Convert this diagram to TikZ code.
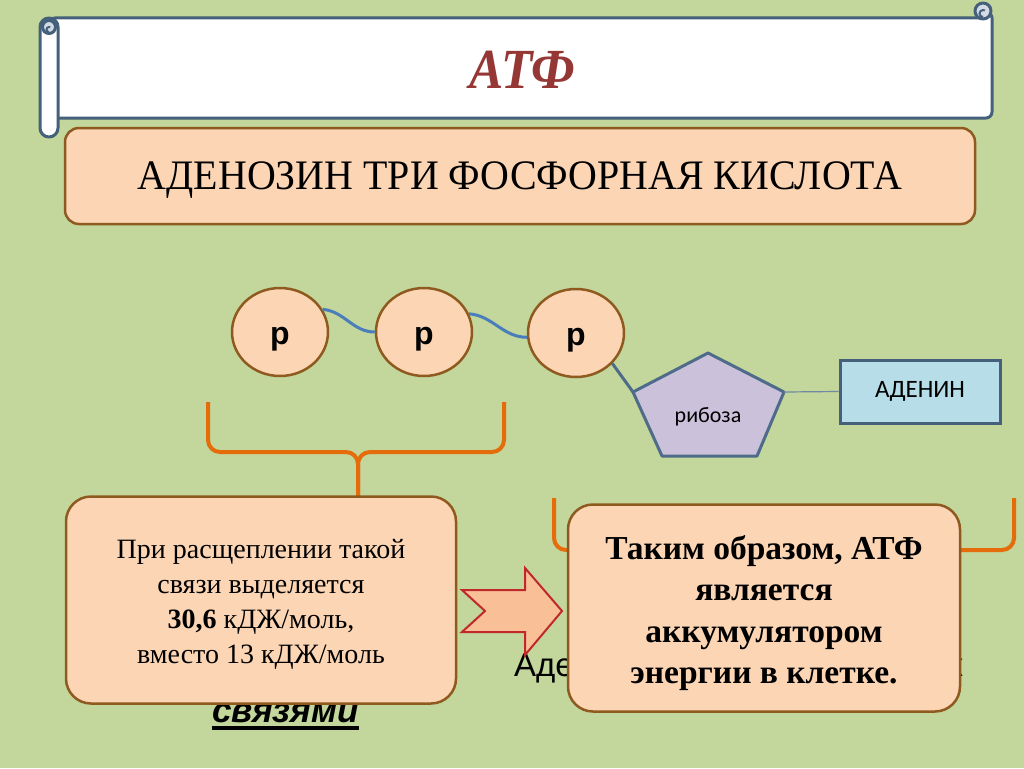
\documentclass[tikz,border=0pt]{standalone}
\usepackage{fontspec}
\usepackage{graphicx}
\setmainfont{Liberation Serif}
\newfontfamily\arialf{Liberation Sans}
\newfontfamily\calibrif{Carlito}
\usetikzlibrary{shapes.geometric,calc}
\definecolor{bgc}{HTML}{C3D69B}
\definecolor{peach}{HTML}{FCD5B5}
\definecolor{brownb}{HTML}{8F5A1F}
\definecolor{orb}{HTML}{E46C0A}
\definecolor{titler}{HTML}{953735}
\definecolor{scrollc}{HTML}{44607A}
\definecolor{wavec}{HTML}{4A7EBB}
\definecolor{pentc}{HTML}{CCC1DA}
\definecolor{pentb}{HTML}{4E6C89}
\definecolor{adenc}{HTML}{B7DEE8}
\definecolor{arrowf}{HTML}{F9BF96}
\definecolor{arrowb}{HTML}{C0282B}
\definecolor{curlc}{HTML}{D3DAE6}
\tikzset{
  scrollline/.style={draw=scrollc, line width=3pt, line join=round},
  peachbox/.style={draw=brownb, fill=peach, line width=2.5pt, rounded corners=25pt, inner sep=0pt},
  pcircle/.style={ellipse, draw=brownb, fill=peach, line width=2.5pt, minimum width=96pt, minimum height=88pt, inner sep=0pt, text height=24pt, text depth=0pt, font=\arialf\bfseries\fontsize{32}{36}\selectfont},
  wave/.style={draw=wavec, line width=3pt},
  bracec/.style={draw=orb, line width=4pt, rounded corners=12pt},
}
\begin{document}
\begin{tikzpicture}[x=1pt,y=-1pt]
\useasboundingbox (0,0) rectangle (1024,768);
\fill[bgc] (0,0) rectangle (1024,768);
% scroll
\path[scrollline, fill=white, rounded corners=6pt] (49,18) -- (985,18) -- (992,12) -- (992,118) -- (52,118) -- cycle;
\path[scrollline, fill=curlc] (983,11) circle (8);
\draw[scrollc, line width=2pt] (983,17) arc[start angle=90, end angle=300, radius=3.5];
\path[scrollline, fill=white, rounded corners=9pt] (40,18) rectangle (58,137);
\path[scrollline, fill=curlc] (49,27) circle (6.5);
\draw[scrollc, line width=2pt] (49,32) arc[start angle=90, end angle=300, radius=2.5];
\node (title) [text=titler, font=\bfseries\itshape\fontsize{54}{60}\selectfont] at (522,70) {\scalebox{0.95}[1.05]{АТФ}};
% subtitle box
\node (sub) [peachbox, rounded corners=14pt, minimum width=910pt, minimum height=96pt] at (520,176) {};
\node at ([yshift=-4pt]sub.center) [font=\fontsize{42}{46}\selectfont] {\scalebox{0.95}[1]{АДЕНОЗИН ТРИ ФОСФОРНАЯ КИСЛОТА}};
% phosphates
\node (p1) [pcircle] at (280,332) {р};
\node (p2) [pcircle] at (424,332) {р};
\node (p3) [pcircle] at (576,333) {р};
\draw[wave] (p1.28) to[out=-5, in=180] (p2.west);
\draw[wave] (p2.22) to[out=-5, in=180] (p3.185);
% pentagon
\coordinate (pl) at (633,392);
\coordinate (pr) at (784,392);
\path[draw=pentb, fill=pentc, line width=3pt, line join=round] (708,353) -- (pr) -- (757,456) -- (662,456) -- (pl) -- cycle;
\node (rib) [font=\calibrif\fontsize{22}{26}\selectfont] at (708,417) {рибоза};
\draw[draw=pentb, line width=3pt] (p3.-40) -- (pl);
\node (aden) [draw=scrollc, fill=adenc, line width=3pt, minimum width=160pt, minimum height=63pt, font=\calibrif\fontsize{25}{28}\selectfont] at (920,391.5) {АДЕНИН};
\draw[draw=pentb!80, line width=1.2pt] (pr) -- (aden.west);
% braces
\coordinate (lb1) at (208,402);
\coordinate (lb2) at (504,402);
\coordinate (lbt) at (358,505);
\draw[bracec] (lb1) -- (208,452) -- (358,452) -- (lbt);
\draw[bracec] (lb2) -- (504,452) -- (358,452) -- (lbt);
\coordinate (rb1) at (554,498);
\coordinate (rb2) at (1014,498);
\coordinate (rbt) at (786,600);
\draw[bracec] (rb1) -- (554,550) -- (786,550) -- (rbt);
\draw[bracec] (rb2) -- (1014,550) -- (786,550) -- (rbt);
% partly hidden text
\node (ade) [anchor=base west, inner sep=0pt, font=\arialf\fontsize{33}{36}\selectfont] at (514,676) {Аде};
\node (kk) [anchor=base west, inner sep=0pt, font=\arialf\fontsize{33}{36}\selectfont] at (948,676) {к};
\node (svz) [anchor=base west, inner sep=0pt, font=\arialf\bfseries\itshape\fontsize{35}{38}\selectfont] at (212,722) {связями};
\draw[line width=3.5pt] ([yshift=-6pt]svz.base west) -- ([yshift=-6pt]svz.base east);
% left box
\node (lbox) [peachbox, minimum width=390pt, minimum height=207pt] at (261,600) {};
\node at ([yshift=-4pt]lbox.center) [align=center, font=\fontsize{28}{35}\selectfont] {При расщеплении такой\\связи выделяется\\\textbf{30,6} кДЖ/моль,\\вместо 13 кДЖ/моль};
% arrow
\path[draw=arrowb, fill=arrowf, line width=2pt, line join=miter] (462,590) -- (525,590) -- (525,568) -- (562,611) -- (525,655) -- (525,632) -- (462,632) -- (485,611) -- cycle;
% right box
\node (rbox) [peachbox, minimum width=392pt, minimum height=207pt] at (764,608) {};
\node at ([yshift=-5pt]rbox.center) [align=center, font=\bfseries\fontsize{33.5}{41.5}\selectfont] {Таким образом, АТФ\\является\\аккумулятором\\энергии в клетке.};
\end{tikzpicture}
\end{document}
